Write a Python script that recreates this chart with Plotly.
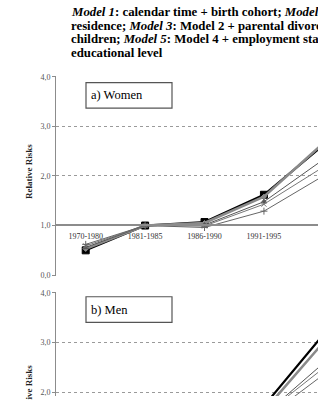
import plotly.graph_objects as go

categories = ["1970-1980", "1981-1985", "1986-1990", "1991-1995", "1996-2000"]

women_m1 = [0.50, 1.00, 1.07, 1.62, 2.62]
women_m2 = [0.53, 1.00, 1.05, 1.58, 2.66]
women_m3 = [0.56, 1.00, 1.01, 1.48, 2.33]
women_m4 = [0.59, 1.00, 0.99, 1.43, 2.18]
women_m5 = [0.62, 1.00, 0.96, 1.29, 2.00]

men_m1 = [0.60, 1.00, 1.10, 1.72, 3.16]
men_m2 = [0.62, 1.00, 1.08, 1.62, 3.00]
men_m3 = [0.64, 1.00, 1.05, 1.54, 2.58]
men_m4 = [0.66, 1.00, 1.03, 1.54, 2.48]
men_m5 = [0.68, 1.00, 1.00, 1.45, 2.35]

y_ticks = [0, 1, 2, 3, 4]

title_lines = [
    "<b><i>Model 1</i>: calendar time + birth cohort; <i>Model 2</i>: Model 1 + place of</b>",
    "<b>residence; <i>Model 3</i>: Model 2 + parental divorce; <i>Model 4</i>: Model 3 + number of</b>",
    "<b>children; <i>Model 5</i>: Model 4 + employment status and</b>",
    "<b>educational level</b>",
]

W, H = 318, 400
SERIF = "Liberation Serif"

styles = [
    dict(color="#000000", width=2.2, symbol="square", size=7),
    dict(color="#8a8a8a", width=2.6, symbol="diamond", size=4),
    dict(color="#555555", width=1.0, symbol="triangle-up", size=5),
    dict(color="#777777", width=1.0, symbol="x-thin", size=5),
    dict(color="#666666", width=1.0, symbol="cross-thin", size=5),
]

fig = go.Figure()
for i, (w, m) in enumerate(zip([women_m1, women_m2, women_m3, women_m4, women_m5],
                               [men_m1, men_m2, men_m3, men_m4, men_m5])):
    s = styles[i]
    for vals, xa, ya in [(w, "x", "y"), (m, "x2", "y2")]:
        fig.add_trace(go.Scatter(
            x=categories, y=vals, xaxis=xa, yaxis=ya, mode="lines+markers",
            line=dict(color=s["color"], width=s["width"]),
            marker=dict(symbol=s["symbol"], size=s["size"], color=s["color"],
                        line=dict(color=s["color"], width=1)),
            showlegend=False, hoverinfo="skip"))

x_dom = [56 / W, 1.0]
x_range = [-0.5, 3.91]
women_dom = [1 - 278 / H, 1 - 74 / H]
men_dom = [0.0, 1 - 294 / H]
men_low = 4.02 - (H - 294) / 50.5

yaxis_common = dict(
    tickvals=y_ticks, tickformat=".1f", showgrid=True, gridcolor="#9a9a9a",
    griddash="dot", gridwidth=1, zeroline=False, showline=True,
    linecolor="#8c8c8c", linewidth=1, ticks="outside", ticklen=3,
    tickcolor="#8c8c8c", tickfont=dict(family=SERIF, size=8, color="#555555"),
)

fig.update_layout(
    width=W, height=H, margin=dict(l=0, r=0, t=0, b=0),
    paper_bgcolor="white", plot_bgcolor="white", separators=",.",
    font=dict(family=SERIF),
    xaxis=dict(domain=x_dom, range=x_range, anchor="free",
               position=1 - 226 / H, showline=True, linecolor="#8c8c8c",
               linewidth=1.5, showgrid=False, ticks="outside", ticklen=4,
               tickcolor="rgba(0,0,0,0)",
               tickfont=dict(family=SERIF, size=8, color="#333333")),
    yaxis=dict(domain=women_dom, range=[-0.02, 4.02], anchor="x", **yaxis_common),
    xaxis2=dict(domain=x_dom, range=x_range, anchor="y2", visible=False),
    yaxis2=dict(domain=men_dom, range=[men_low, 4.02], anchor="x2", **yaxis_common),
)

# title text lines
for k, line in enumerate(title_lines):
    fig.add_annotation(
        text=line, xref="paper", yref="paper", x=69 / W, y=1 - (9 + 14 * k) / H,
        xanchor="left", yanchor="middle", showarrow=False,
        font=dict(family=SERIF, size=12.8, color="#000000"))

# panel label boxes
for label, top in [("a) Women", 81), ("b) Men", 299)]:
    fig.add_shape(type="rect", xref="paper", yref="paper",
                  x0=86 / W, x1=172 / W, y0=1 - top / H, y1=1 - (top + 26) / H,
                  line=dict(color="#555555", width=1.2), fillcolor="white")
    fig.add_annotation(
        text=label, xref="paper", yref="paper", x=89 / W, y=1 - (top + 13) / H,
        xanchor="left", yanchor="middle", showarrow=False,
        font=dict(family=SERIF, size=12.5, color="#000000"))

# y-axis titles
for cy in [171, 396]:
    fig.add_annotation(
        text="<b>Relative Risks</b>", xref="paper", yref="paper",
        x=29 / W, y=1 - cy / H, xanchor="center", yanchor="middle",
        textangle=-90, showarrow=False,
        font=dict(family=SERIF, size=9, color="#222222"))

fig.write_html("out.html")
